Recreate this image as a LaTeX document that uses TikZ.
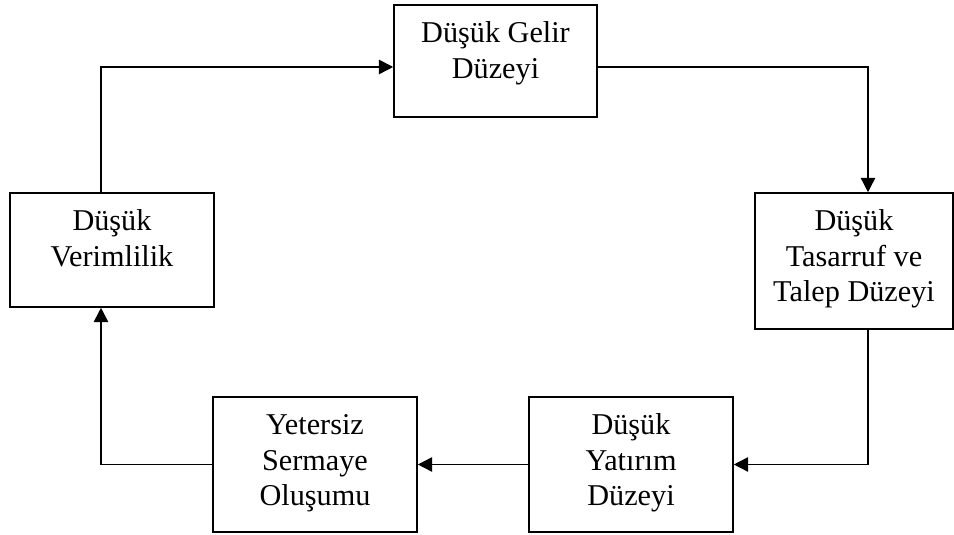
\documentclass[tikz,border=0pt]{standalone}
\usepackage{fontspec}
\setmainfont{Liberation Serif}
\usetikzlibrary{arrows.meta}

\newcommand{\kutuyazi}[3]{\parbox[c][#2][t]{#1}{\centering\fontsize{21.5pt}{25.2pt}\selectfont\rule{0pt}{0.95cm}#3}}

\begin{document}
\begin{tikzpicture}[
    kutu/.style={draw,line width=1.1pt,inner sep=0pt},
    ok/.style={-{Triangle[length=0.36cm,width=0.36cm]},line width=1.1pt}
  ]
  \useasboundingbox (0,0) rectangle (23.85,13.375);

  \node[kutu] (gelir) at (12.3875,11.85) {\kutuyazi{5.075cm}{2.8cm}{Düşük Gelir\\Düzeyi}};
  \node[kutu] (verimlilik) at (2.8,7.125) {\kutuyazi{5.1cm}{2.85cm}{Düşük\\Verimlilik}};
  \node[kutu] (tasarruf) at (21.35,6.85) {\kutuyazi{4.95cm}{3.4cm}{Düşük\\Tasarruf ve\\Talep Düzeyi}};
  \node[kutu] (yatirim) at (15.775,1.7625) {\kutuyazi{5.1cm}{3.375cm}{Düşük\\Yatırım\\Düzeyi}};
  \node[kutu] (sermaye) at (7.875,1.7625) {\kutuyazi{5.1cm}{3.375cm}{Yetersiz\\Sermaye\\Oluşumu}};

  % kisir dongu
  \draw[ok] ([xshift=-0.275cm]verimlilik.north) |- ([yshift=-0.15cm]gelir.west);
  \draw[ok] ([yshift=-0.15cm]gelir.east) -| ([xshift=0.35cm]tasarruf.north);
  \draw[ok] ([xshift=0.35cm]tasarruf.south) |- (yatirim.east);
  \draw[ok] (yatirim.west) -- (sermaye.east);
  \draw[ok] (sermaye.west) -| ([xshift=-0.275cm]verimlilik.south);
\end{tikzpicture}
\end{document}
